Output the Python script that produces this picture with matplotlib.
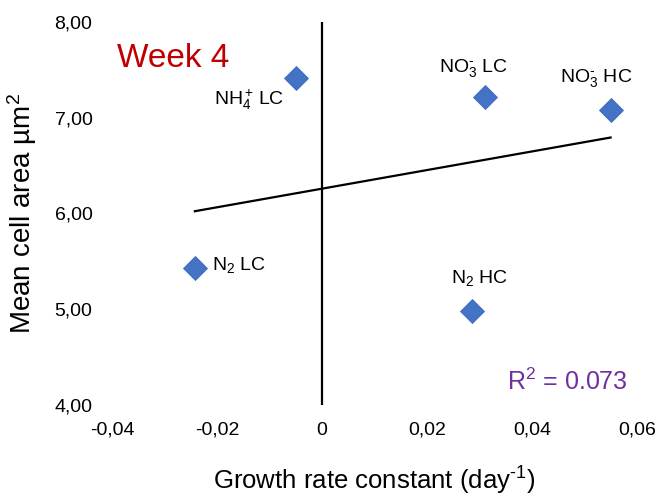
import numpy as np
import matplotlib
matplotlib.use("Agg")
import matplotlib.pyplot as plt
from matplotlib.ticker import FuncFormatter

plt.rcParams["font.family"] = ["Liberation Sans", "DejaVu Sans"]
plt.rcParams["mathtext.fontset"] = "custom"
plt.rcParams["mathtext.rm"] = "Liberation Sans"
plt.rcParams["mathtext.it"] = "Liberation Sans:italic"
plt.rcParams["mathtext.bf"] = "Liberation Sans:bold"

HY = "\u2010"  # short hyphen used as the charge / exponent sign

# Week 4: growth rate constant vs mean cell area per treatment
treatments = ["NH$_4^+\\!$ LC", "NO$_3^{" + HY + "}$ LC", "NO$_3^{" + HY + "}$ HC",
              "N$_2$ LC", "N$_2$ HC"]
growth_rate = [-0.005, 0.031, 0.055, -0.0242, 0.0286]
cell_area = [7.415, 7.217, 7.08, 5.43, 4.98]

x_ticks = [-0.04, -0.02, 0.0, 0.02, 0.04, 0.06]
y_ticks = [4.0, 5.0, 6.0, 7.0, 8.0]

x = np.array(growth_rate)
y = np.array(cell_area)
slope, intercept = np.polyfit(x, y, 1)
r2 = np.corrcoef(x, y)[0, 1] ** 2

fig = plt.figure(figsize=(6.62, 4.97), dpi=100)
ax = fig.add_axes([0.169, 0.185, 0.793, 0.771])

ax.set_xlim(-0.04, 0.06)
ax.set_ylim(4.0, 8.0)

for s in ax.spines.values():
    s.set_visible(False)
ax.axvline(0.0, color="black", lw=1.6, zorder=1)

# linear trend line across the data range
xl = np.array([x.min(), x.max()])
ax.plot(xl, slope * xl + intercept, color="black", lw=1.6, zorder=2)

ax.plot(x, y, linestyle="none", marker="D", ms=12, color="#4472C4",
        markeredgecolor="#3F6BBE", markeredgewidth=0.6, zorder=3)

# per-point labels: (dx, dy) in pixels, horizontal alignment
label_pos = [(-11, -22, "right"), (-11, 29, "center"), (-14, 32, "center"),
             (17, 3, "left"), (8, 33, "center")]
for name, xi, yi, (dx, dy, ha) in zip(treatments, x, y, label_pos):
    ax.annotate(name, (xi, yi), xytext=(dx, dy), textcoords="offset pixels",
                ha=ha, va="center", fontsize=14, color="black")

ax.set_xticks(x_ticks)
ax.set_yticks(y_ticks)
ax.xaxis.set_major_formatter(FuncFormatter(
    lambda v, p: "0" if abs(v) < 1e-12 else f"{v:.2f}".replace(".", ",")))
ax.yaxis.set_major_formatter(FuncFormatter(lambda v, p: f"{v:.2f}".replace(".", ",")))
ax.tick_params(axis="both", length=0, labelsize=14)
ax.tick_params(axis="y", pad=14)
ax.tick_params(axis="x", pad=12)

ax.set_xlabel("Growth rate constant (day$^{" + HY + "1}$)", fontsize=18.5, labelpad=19)
ax.set_ylabel("Mean cell area µm$^2$", fontsize=20, labelpad=11)

ax.text(0.01, 0.905, "Week 4", transform=ax.transAxes, fontsize=24,
        color="#C00000", ha="left", va="center")
ax.text(0.983, 0.06, f"R$^2$ = {r2:.3f}", transform=ax.transAxes, fontsize=18,
        color="#7030A0", ha="right", va="center")

fig.savefig("out.png", dpi=100)
